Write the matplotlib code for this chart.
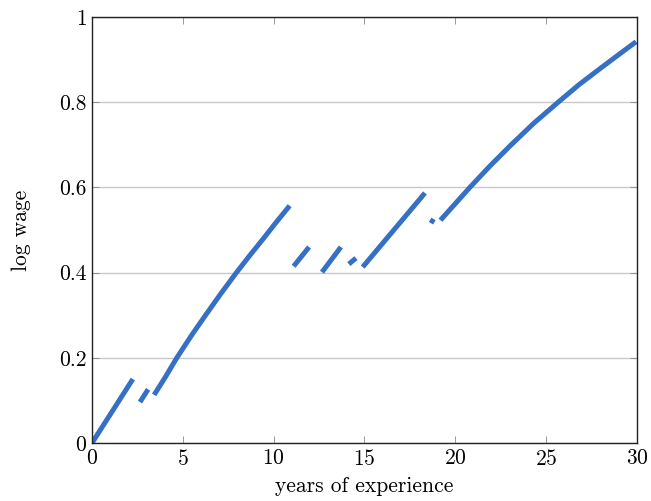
import numpy as np
import matplotlib.pyplot as plt

plt.rcParams['font.family'] = 'cmr10'
plt.rcParams['axes.formatter.use_mathtext'] = True

# each piece of the wage profile: (experience points, log wage points)
seg_x = [
    [0.0, 2.25],
    [2.64, 3.09],
    [3.42, 4.0, 4.67, 5.5, 6.3, 7.1, 7.95, 8.7, 9.4, 10.1, 10.88],
    [11.1, 11.95],
    [12.66, 13.7],
    [14.14, 14.53],
    [14.9, 18.33],
    [18.66, 18.8],
    [19.18, 20.0, 20.8, 21.9, 23.0, 24.3, 25.66, 26.8, 28.0, 29.0, 29.95],
]
seg_y = [
    [0.0, 0.15],
    [0.096, 0.126],
    [0.113, 0.152, 0.2, 0.254, 0.303, 0.351, 0.4, 0.441, 0.478, 0.516, 0.557],
    [0.415, 0.46],
    [0.401, 0.46],
    [0.42, 0.434],
    [0.413, 0.587],
    [0.516, 0.526],
    [0.523, 0.562, 0.6, 0.65, 0.697, 0.75, 0.8, 0.841, 0.88, 0.912, 0.942],
]

fig = plt.figure(figsize=(6.51, 5.01), dpi=100)
ax = fig.add_axes([0.1413, 0.1158, 0.8372, 0.8502])

for xs, ys in zip(seg_x, seg_y):
    ax.plot(xs, ys, color='#3570c4', lw=3.6, solid_capstyle='butt', solid_joinstyle='round')

ax.set_xlim(0, 30)
ax.set_ylim(0, 1)
ax.set_xticks([0, 5, 10, 15, 20, 25, 30])
ax.set_yticks([0, 0.2, 0.4, 0.6, 0.8, 1])
ax.set_yticklabels(['0', '0.2', '0.4', '0.6', '0.8', '1'])
ax.yaxis.grid(True, color='#c8c8c8', lw=1)
ax.set_axisbelow(True)
ax.tick_params(direction='in', top=True, right=True, length=5, width=0.6,
               color='#888888', labelsize=15.5, pad=4)
for s in ax.spines.values():
    s.set_linewidth(1.0)
    s.set_color('#222222')

ax.set_xlabel('years of experience', fontsize=15.5, labelpad=6)
ax.set_ylabel('log wage', fontsize=15.5, labelpad=20)

fig.savefig('out.png', dpi=100)
